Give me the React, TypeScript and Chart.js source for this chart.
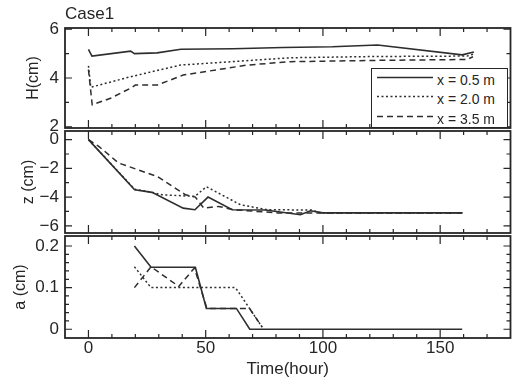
import React, { useEffect, useRef } from 'react';
import { Chart, registerables } from 'chart.js';

Chart.register(...registerables);

// ---------------- data ----------------
const xTickValues = [0, 50, 100, 150];
const xMinorTickValues = [10, 20, 30, 40, 60, 70, 80, 90, 110, 120, 130, 140, 160, 170];

const seriesLabels = ['x = 0.5 m', 'x = 2.0 m', 'x = 3.5 m'];

// H(cm) panel
const hTime05 = [0, 1.5, 18, 19.6, 29.3, 39.4, 61.7, 83, 104, 123.3, 159.4, 164.4];
const hVal05 = [5.17, 4.9, 5.1, 5.0, 5.03, 5.18, 5.2, 5.25, 5.28, 5.35, 4.95, 5.07];
const hTime20 = [0, 1, 17.9, 39.2, 86.2, 121, 161.5, 164];
const hVal20 = [4.5, 3.62, 4.05, 4.53, 4.83, 4.88, 4.9, 4.97];
const hTime35 = [0, 1.6, 9.4, 17.9, 20, 29.3, 40.4, 67.7, 86.2, 121, 161.5, 164];
const hVal35 = [4.35, 2.9, 3.17, 3.58, 3.71, 3.71, 4.12, 4.53, 4.67, 4.72, 4.76, 4.87];
const hTicks = [2, 4, 6];
const hMinorTicks = [3, 5];

// z(cm) panel
const zTime05 = [0, 19.7, 27.1, 40.4, 45.4, 51, 61.3, 75.5, 90.4, 94.7, 100, 159.5];
const zVal05 = [0, -3.49, -3.67, -4.77, -4.88, -4.0, -4.88, -4.9, -5.23, -4.95, -5.1, -5.1];
const zTime20 = [0, 19.7, 27.1, 31.4, 45.4, 50.3, 64.8, 76.2, 95, 99, 159.5];
const zVal20 = [0, -3.45, -3.67, -3.84, -3.95, -3.28, -4.53, -4.88, -4.9, -5.1, -5.1];
const zTime35 = [0, 4.4, 12.9, 24.3, 29.3, 41.4, 45.6, 49.2, 55.5, 61.9, 80.5, 159.5];
const zVal35 = [0, -0.47, -1.63, -2.28, -2.56, -3.84, -4.0, -4.77, -4.65, -4.88, -5.1, -5.1];
const zTicks = [0, -2, -4, -6];
const zMinorTicks = [-1, -3, -5];

// a(cm) panel
const aTime05 = [19.6, 26.7, 45.6, 50.3, 63.1, 68.8, 159.4];
const aVal05 = [0.2, 0.149, 0.149, 0.05, 0.05, 0, 0];
const aTime20 = [19.6, 26.7, 62.7, 74.1];
const aVal20 = [0.15, 0.1, 0.1, 0.005];
const aTime35 = [19.6, 26.7, 38.5, 45.2, 50.5, 68.7, 74.1];
const aVal35 = [0.1, 0.15, 0.103, 0.147, 0.05, 0.05, 0.005];
const aTicks = [0, 0.1, 0.2];
const aMinorTicks = [0.02, 0.04, 0.06, 0.08, 0.12, 0.14, 0.16, 0.18];

// ---------------- style ----------------
const FONT = "'Liberation Sans', Arial, Helvetica, sans-serif";
const INK = '#262626';
const LINE = '#2e2e2e';
const CANVAS_W = 523;
const CANVAS_H = 387;
const PLOT_LEFT = 65;
const PLOT_RIGHT = 510.5;
const dashes = [[], [2, 2.5], [6, 4]];
const widths = [1.6, 1.5, 1.5];

Chart.defaults.font.family = FONT;

const zip = (t: number[], v: number[]) => t.map((x, i) => ({ x, y: v[i] }));

interface PanelSpec {
  top: number;
  bottom: number;
  yMin: number;
  yMax: number;
  yTicks: number[];
  yMinor: number[];
  yTitle: string;
  yTitleOffset: number;
  series: { x: number; y: number }[][];
  title?: string;
  showX?: boolean;
}

const fmt = (v: number) => {
  const s = String(Math.round(v * 1000) / 1000);
  return s.replace('-', '\u2212');
};

function framePlugin(spec: PanelSpec) {
  return {
    id: 'frameTicks',
    afterDatasetsDraw(chart: any) {
      const { ctx, chartArea: a, scales } = chart;
      const xs = scales.x;
      const ys = scales.y;
      ctx.save();
      ctx.strokeStyle = INK;
      ctx.lineWidth = 1.2;
      ctx.beginPath();
      const seg = (x1: number, y1: number, x2: number, y2: number) => {
        ctx.moveTo(x1, y1);
        ctx.lineTo(x2, y2);
      };
      xTickValues.forEach((v) => {
        const p = xs.getPixelForValue(v);
        seg(p, a.top, p, a.top + 8);
        seg(p, a.bottom, p, a.bottom - 8);
      });
      xMinorTickValues.forEach((v) => {
        const p = xs.getPixelForValue(v);
        seg(p, a.top, p, a.top + 4);
        seg(p, a.bottom, p, a.bottom - 4);
      });
      spec.yTicks.forEach((v) => {
        const p = ys.getPixelForValue(v);
        seg(a.left, p, a.left + 7, p);
        seg(a.right, p, a.right - 7, p);
      });
      spec.yMinor.forEach((v) => {
        const p = ys.getPixelForValue(v);
        seg(a.left, p, a.left + 4, p);
        seg(a.right, p, a.right - 4, p);
      });
      ctx.stroke();
      ctx.lineWidth = 1.8;
      ctx.strokeRect(a.left, a.top, a.right - a.left, a.bottom - a.top);
      ctx.restore();
    },
  };
}

function makeConfig(spec: PanelSpec): any {
  const tickFont = { family: FONT, size: 17 };
  return {
    type: 'line',
    data: {
      datasets: spec.series.map((d, i) => ({
        label: seriesLabels[i],
        data: d,
        borderColor: LINE,
        backgroundColor: LINE,
        borderWidth: widths[i],
        borderDash: dashes[i],
        pointRadius: 0,
        tension: 0,
        fill: false,
      })),
    },
    options: {
      responsive: false,
      animation: false,
      devicePixelRatio: 1,
      layout: {
        padding: {
          left: 0,
          right: CANVAS_W - PLOT_RIGHT,
          top: spec.title ? 0 : spec.top,
          bottom: spec.showX ? 0 : CANVAS_H - spec.bottom,
        },
      },
      plugins: {
        legend: { display: false },
        tooltip: { enabled: false },
        title: spec.title
          ? {
              display: true,
              text: spec.title,
              align: 'start',
              fullSize: false,
              color: INK,
              font: { family: FONT, size: 17, weight: 'normal', lineHeight: 1.2 },
              padding: { top: 4, bottom: spec.top - 4 - 20.4 },
            }
          : { display: false },
      },
      scales: {
        x: {
          type: 'linear',
          min: -10,
          max: 180,
          display: !!spec.showX,
          afterBuildTicks: (s: any) => {
            s.ticks = xTickValues.map((v) => ({ value: v }));
          },
          afterFit: (s: any) => {
            if (spec.showX) s.height = CANVAS_H - spec.bottom;
            s.paddingLeft = 0;
            s.paddingRight = 0;
          },
          grid: { display: false, drawTicks: false },
          border: { display: false },
          ticks: { padding: 0, color: INK, font: tickFont, maxRotation: 0, autoSkip: false },
          title: {
            display: !!spec.showX,
            text: 'Time(hour)',
            color: INK,
            font: { family: FONT, size: 17, lineHeight: 1.2 },
            padding: { top: 0, bottom: 7 },
          },
        },
        y: {
          type: 'linear',
          min: spec.yMin,
          max: spec.yMax,
          afterBuildTicks: (s: any) => {
            s.ticks = spec.yTicks.map((v) => ({ value: v }));
          },
          afterFit: (s: any) => {
            s.width = PLOT_LEFT;
            s.paddingTop = 0;
            s.paddingBottom = 0;
          },
          grid: { display: false, drawTicks: false },
          border: { display: false },
          ticks: {
            padding: 6,
            color: INK,
            font: tickFont,
            autoSkip: false,
            callback: (v: number) => fmt(v),
          },
          title: {
            display: true,
            text: spec.yTitle,
            color: INK,
            font: { family: FONT, size: 16, lineHeight: 1.2 },
            padding: { top: spec.yTitleOffset, bottom: 0 },
          },
        },
      },
    },
    plugins: [framePlugin(spec)],
  };
}

const panels: PanelSpec[] = [
  {
    top: 28,
    bottom: 128,
    yMin: 1.95,
    yMax: 6.05,
    yTicks: hTicks,
    yMinor: hMinorTicks,
    yTitle: 'H(cm)',
    yTitleOffset: 24,
    title: 'Case1',
    series: [zip(hTime05, hVal05), zip(hTime20, hVal20), zip(hTime35, hVal35)],
  },
  {
    top: 131,
    bottom: 233,
    yMin: -6.5,
    yMax: 0.6,
    yTicks: zTicks,
    yMinor: zMinorTicks,
    yTitle: 'z (cm)',
    yTitleOffset: 19,
    series: [zip(zTime05, zVal05), zip(zTime20, zVal20), zip(zTime35, zVal35)],
  },
  {
    top: 236,
    bottom: 338,
    yMin: -0.021,
    yMax: 0.224,
    yTicks: aTicks,
    yMinor: aMinorTicks,
    yTitle: 'a (cm)',
    yTitleOffset: 11,
    showX: true,
    series: [zip(aTime05, aVal05), zip(aTime20, aVal20), zip(aTime35, aVal35)],
  },
];

const legendRowCenters = [10.5, 30, 50];

export default function App() {
  const r1 = useRef<HTMLCanvasElement>(null);
  const r2 = useRef<HTMLCanvasElement>(null);
  const r3 = useRef<HTMLCanvasElement>(null);
  const refs = [r1, r2, r3];

  useEffect(() => {
    const charts = refs.map((r, i) => new Chart(r.current as HTMLCanvasElement, makeConfig(panels[i])));
    return () => charts.forEach((c) => c.destroy());
  }, []);

  return (
    <div
      style={{
        position: 'fixed',
        left: 0,
        top: 0,
        width: CANVAS_W,
        height: CANVAS_H,
        background: '#fff',
        fontFamily: FONT,
        color: INK,
      }}
    >
      {refs.map((r, i) => (
        <canvas
          key={i}
          ref={r}
          width={CANVAS_W}
          height={CANVAS_H}
          style={{ position: 'absolute', left: 0, top: 0, width: CANVAS_W, height: CANVAS_H }}
        />
      ))}
      <div
        style={{
          position: 'absolute',
          left: 371,
          top: 68,
          width: 137,
          height: 60,
          boxSizing: 'border-box',
          border: `1.5px solid ${INK}`,
          background: '#fff',
        }}
      >
        {seriesLabels.map((lab, i) => (
          <div
            key={i}
            style={{ position: 'absolute', left: 0, top: legendRowCenters[i] - 10, width: '100%', height: 20 }}
          >
            <svg width={62} height={20} style={{ position: 'absolute', left: 3, top: 0 }}>
              <line
                x1={2}
                x2={58}
                y1={7.5}
                y2={7.5}
                stroke={LINE}
                strokeWidth={widths[i]}
                strokeDasharray={dashes[i].length ? dashes[i].join(' ') : undefined}
              />
            </svg>
            <span
              style={{
                position: 'absolute',
                left: 65,
                top: 0,
                fontSize: 14,
                lineHeight: '20px',
                whiteSpace: 'nowrap',
              }}
            >
              {lab}
            </span>
          </div>
        ))}
      </div>
    </div>
  );
}
